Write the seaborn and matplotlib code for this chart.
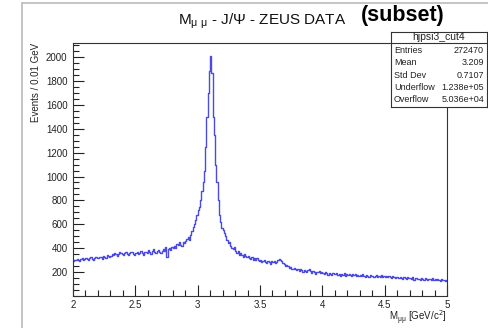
import numpy as np
import pandas as pd
import matplotlib
matplotlib.use("Agg")
import matplotlib.pyplot as plt
import seaborn as sns
from matplotlib.lines import Line2D
from matplotlib.ticker import MultipleLocator

# histogram: M_mumu from 2 to 5 GeV, 0.01 GeV bins (counts)
mass_lo, mass_hi, bin_width = 2.0, 5.0, 0.01
counts = [
    290, 305, 298, 312, 300, 295, 310, 318, 302, 308,   # 2.0
    322, 310, 305, 318, 326, 312, 300, 315, 328, 320,   # 2.1
    316, 330, 325, 312, 335, 328, 318, 340, 332, 325,   # 2.2
    338, 352, 345, 360, 348, 335, 355, 372, 362, 350,   # 2.3
    345, 360, 368, 352, 340, 358, 372, 365, 350, 344,   # 2.4
    356, 365, 350, 362, 375, 358, 345, 368, 372, 360,   # 2.5
    382, 370, 355, 378, 390, 372, 360, 375, 385, 368,   # 2.6
    362, 378, 392, 375, 410, 325, 395, 402, 388, 412,   # 2.7
    405, 420, 398, 435, 425, 448, 430, 415, 455, 440,   # 2.8
    462, 478, 495, 470, 510, 540, 575, 600, 640, 680,   # 2.9
    720, 745, 800, 880, 950, 1050, 1250, 1500, 1700, 1880,  # 3.0
    2010, 1870, 1500, 1350, 1100, 950, 800, 680, 620, 570,  # 3.1
    550, 530, 505, 470, 440, 452, 420, 405, 392, 410,   # 3.2
    375, 362, 380, 345, 358, 340, 330, 352, 338, 325,   # 3.3
    335, 318, 310, 328, 305, 315, 298, 320, 302, 292,   # 3.4
    300, 285, 295, 305, 288, 278, 296, 282, 270, 290,   # 3.5
    282, 295, 275, 288, 300, 310, 298, 292, 280, 268,   # 3.6
    255, 262, 248, 235, 245, 230, 222, 238, 228, 215,   # 3.7
    225, 212, 230, 218, 205, 220, 210, 198, 215, 222,   # 3.8
    208, 195, 212, 200, 188, 205, 198, 210, 192, 200,   # 3.9
    195, 185, 202, 190, 178, 196, 188, 172, 192, 185,   # 4.0
    180, 192, 175, 186, 170, 182, 176, 190, 168, 180,   # 4.1
    178, 186, 172, 165, 180, 174, 188, 170, 178, 168,   # 4.2
    175, 165, 180, 170, 162, 176, 168, 158, 172, 166,   # 4.3
    170, 160, 165, 172, 158, 168, 162, 175, 155, 165,   # 4.4
    162, 168, 155, 170, 160, 150, 165, 158, 148, 162,   # 4.5
    155, 148, 160, 152, 142, 158, 150, 145, 155, 148,   # 4.6
    150, 142, 155, 138, 148, 152, 140, 146, 135, 150,   # 4.7
    145, 138, 150, 142, 132, 146, 140, 135, 148, 138,   # 4.8
    140, 132, 145, 135, 128, 142, 130, 138, 125, 132,   # 4.9
]

stats_name = "hjpsi3_cut4"
stats_labels = ["Entries", "Mean", "Std Dev", "Underflow", "Overflow"]
stats_values = ["272470", "3.209", "0.7107", "1.238e+05", "5.036e+04"]

sns.set_style("ticks")
plt.rcParams["font.family"] = ["Liberation Sans", "DejaVu Sans"]

n_bins = len(counts)
centers = mass_lo + bin_width * (np.arange(n_bins) + 0.5)
df = pd.DataFrame({"mass": centers, "events": counts})

W, H = 489, 328
fig = plt.figure(figsize=(W / 100, H / 100), dpi=100)
ax = fig.add_axes([73 / W, 1 - 296 / H, 374 / W, 253.3 / H])

sns.histplot(data=df, x="mass", weights="events", bins=n_bins,
             binrange=(mass_lo, mass_hi), element="step", fill=False,
             color="#4a4ae6", linewidth=1.0, ax=ax)

ax.set_xlim(mass_lo, mass_hi)
ax.set_ylim(0, 2120)
ax.xaxis.set_minor_locator(MultipleLocator(0.1))
ax.yaxis.set_minor_locator(MultipleLocator(50))
ax.set_yticks([200, 400, 600, 800, 1000, 1200, 1400, 1600, 1800, 2000])
ax.set_xticks([2, 2.5, 3, 3.5, 4, 4.5, 5])
ax.set_xticklabels(["2", "2.5", "3", "3.5", "4", "4.5", "5"])
ax.tick_params(which="both", direction="in", top=False, right=False,
               colors="#222222", labelsize=7, width=0.8)
ax.tick_params(which="major", length=8)
ax.tick_params(which="minor", length=4)
ax.tick_params(axis="x", pad=3)
ax.tick_params(axis="y", pad=4)
for s in ax.spines.values():
    s.set_color("#333333")
    s.set_linewidth(0.8)

ax.set_ylabel("Events / 0.01 GeV", loc="top", fontsize=7, color="#222222")
ax.yaxis.set_label_coords(-0.085, 1.0)
ax.set_xlabel(r"M$\mathregular{_{μμ}}$ [GeV/c$^2$]", loc="right", fontsize=7,
              color="#222222")
ax.xaxis.set_label_coords(1.0, -0.05)

fig.text(262 / W, 1 - 21 / H, r"M$\mathregular{_{μ\ μ}}$ - J/Ψ - ZEUS DATA",
         ha="center", va="center", fontsize=11, color="#111111")
fig.text(403 / W, 1 - 15 / H, "(subset)", ha="center", va="center",
         fontsize=15.5, fontweight="bold", color="black")

# stats box
bx = fig.add_axes([391 / W, 1 - 106.5 / H, 96 / W, 75 / H])
bx.set_xlim(0, 96)
bx.set_ylim(75, 0)
bx.set_xticks([])
bx.set_yticks([])
bx.set_facecolor("white")
for s in bx.spines.values():
    s.set_color("#333333")
    s.set_linewidth(0.8)
bx.axhline(11.5, color="#333333", lw=0.8)
bx.text(48, 6, stats_name, ha="center", va="center", fontsize=7.5, color="#222222")
for k, (lab, val) in enumerate(zip(stats_labels, stats_values)):
    yy = 19 + k * 12.3
    bx.text(3, yy, lab, ha="left", va="center", fontsize=6.5, color="#222222")
    bx.text(93, yy, val, ha="right", va="center", fontsize=6.5, color="#222222")

# screenshot frame lines
fig.add_artist(Line2D([22 / W, 22 / W], [0, 1 - 3 / H], color="#bbbbbb", lw=1.2))
fig.add_artist(Line2D([22 / W, 1], [1 - 3 / H, 1 - 3 / H], color="#bbbbbb", lw=1.2))

fig.savefig("out.png", dpi=100)
